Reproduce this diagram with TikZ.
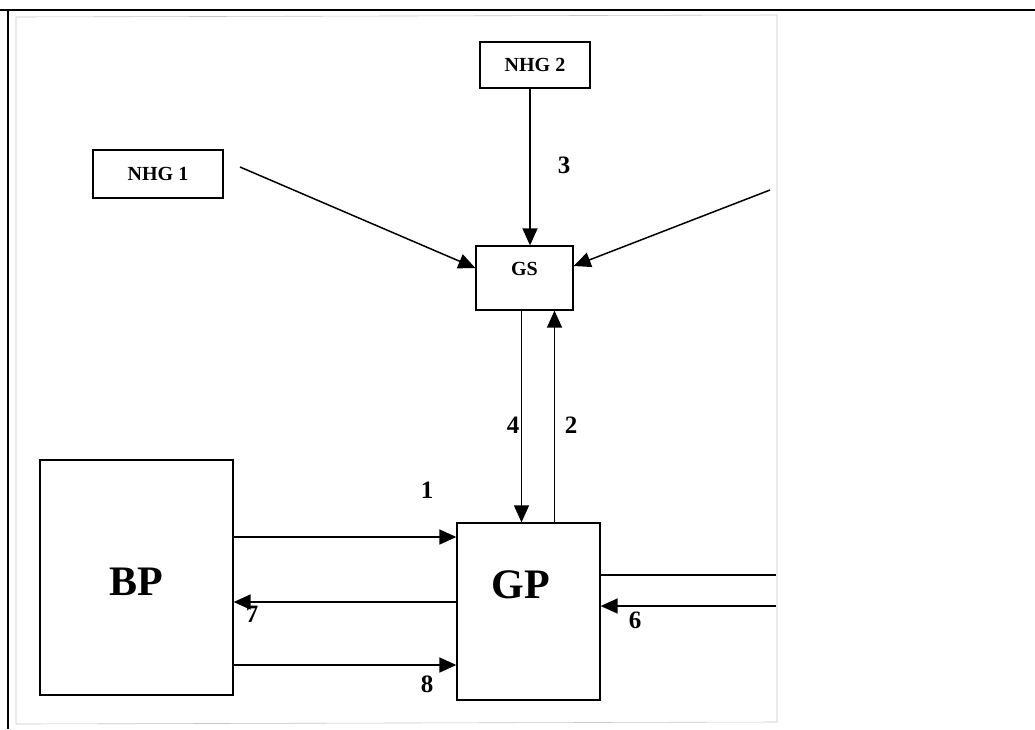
\documentclass[tikz,border=0pt]{standalone}
\usepackage{fontspec}
\setmainfont{Liberation Serif}
\usetikzlibrary{arrows.meta,calc}
\begin{document}
\begin{tikzpicture}[x=1pt,y=-1pt,
  box/.style={draw,line width=1.3pt,inner sep=0pt},
  arr/.style={line width=1.5pt,-{Triangle[length=17pt,width=15pt]}},
  ln/.style={line width=1.5pt},
  lbl/.style={font=\fontsize{25}{27}\selectfont\bfseries},
  small/.style={font=\fontsize{20}{22}\selectfont\bfseries},
  big/.style={font=\fontsize{42}{44}\selectfont\bfseries}]
\useasboundingbox (0,0) rectangle (1035,729);
% frame
\draw[line width=2.2pt] (0,10) -- (1035,10);
\draw[line width=2pt] (8,10) -- (8,729);
\draw[gray!45,line width=0.6pt] (16,17) -- (777,15) -- (777,722) -- (16,724) -- cycle;
% nodes
\node[box,minimum width=110,minimum height=46] (nhg2) at (535,65) {};
\node[small] at (nhg2.center) {NHG 2};
\node[box,minimum width=130,minimum height=48] (nhg1) at (158,174) {};
\node[small] at (nhg1.center) {NHG 1};
\node[box,minimum width=97,minimum height=64] (gs) at (524.5,278) {};
\node[small] at ($(gs.center)+(0,-9)$) {GS};
\node[box,minimum width=193,minimum height=235] (bp) at (136.5,577.5) {};
\node[big] at (136,582) {BP};
\node[box,minimum width=143,minimum height=177] (gp) at (528.5,611.5) {};
\node[big] at (521,585) {GP};
% free ends
\coordinate (n1s) at (240,167);
\coordinate (rin) at (770,190);
\coordinate (r5) at (776,575);
\coordinate (r6) at (776,606);
% connectors to GS
\draw[arr] (nhg2.south -| 530,0) -- (gs.north -| 530,0);
\draw[arr] (n1s) -- ([yshift=10pt]gs.west);
\draw[arr] (rin) -- ([yshift=12pt]gs.east);
% GS <-> GP
\coordinate (g4) at ([xshift=-3pt]gs.south);
\coordinate (g2) at ([xshift=30pt]gs.south);
\draw[arr] (g4) -- (g4 |- gp.north);
\draw[arr] (g2 |- gp.north) -- (g2);
% BP <-> GP
\coordinate (b1) at ([yshift=40.5pt]bp.east);
\coordinate (b7) at ([yshift=-24.5pt]bp.east);
\coordinate (b8) at ([yshift=-87.5pt]bp.east);
\draw[arr] (b1) -- (b1 -| gp.west);
\draw[arr] (b7 -| gp.west) -- (b7);
\draw[arr] (b8) -- (b8 -| gp.west);
% right side
\draw[ln] (r5 -| gp.east) -- (r5);
\draw[arr] (r6) -- (r6 -| gp.east);
% labels
\node[lbl] at (564,165) {3};
\node[lbl] at (513,425) {4};
\node[lbl] at (571,425) {2};
\node[lbl] at (427,490) {1};
\node[lbl] at (252,614) {7};
\node[lbl] at (635,620) {6};
\node[lbl] at (427,684) {8};
\end{tikzpicture}
\end{document}
